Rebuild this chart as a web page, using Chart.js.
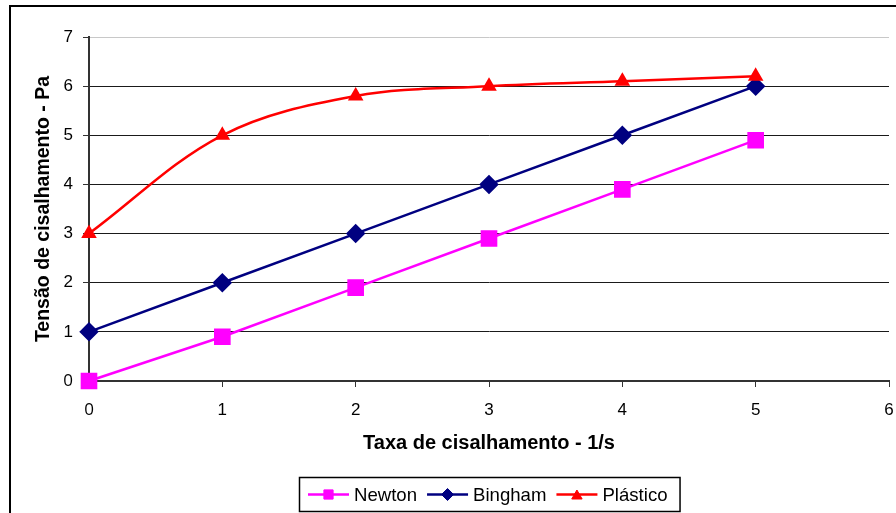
<!DOCTYPE html>
<html>
<head>
<meta charset="utf-8">
<script src="https://cdn.jsdelivr.net/npm/chart.js@4/dist/chart.umd.min.js"></script>
<style>
  html, body { margin: 0; padding: 0; background: #fff; }
  #chart { display: block; }
</style>
</head>
<body>
<canvas id="chart" width="896" height="513"></canvas>
<script>
// Shear rate (1/s) on the x axis, shear stress (Pa) on the y axis
const shearRate = [0, 1, 2, 3, 4, 5];
const newtonStress = [0, 0.9, 1.9, 2.9, 3.9, 4.9];
const binghamStress = [1, 2, 3, 4, 5, 6];
const plasticStress = [3, 5, 5.8, 6, 6.1, 6.2];
const seriesNames = ['Newton', 'Bingham', 'Plástico'];
const xTickValues = [0, 1, 2, 3, 4, 5, 6];
const yTickValues = [0, 1, 2, 3, 4, 5, 6, 7];
const xTitle = 'Taxa de cisalhamento - 1/s';
const yTitle = 'Tensão de cisalhamento - Pa';

const toPoints = (ys) => shearRate.map((x, i) => ({ x: x, y: ys[i] }));

const FONT = "'Liberation Sans', Arial, sans-serif";
const tickFont = (c) => ({
  family: (c.tick && c.tick.value === 0) ? "'Open Sans', 'Noto Sans', sans-serif" : FONT,
  size: 17
});

// Outer frame of the chart
const framePlugin = {
  id: 'frame',
  beforeDraw(chart) {
    const ctx = chart.ctx;
    ctx.save();
    ctx.fillStyle = '#fff';
    ctx.fillRect(0, 0, chart.width, chart.height);
    ctx.strokeStyle = '#000';
    ctx.lineWidth = 2;
    ctx.strokeRect(10, 6, chart.width + 20, chart.height + 20);
    ctx.restore();
  }
};

// Boxed legend under the axis title
const boxLegendPlugin = {
  id: 'boxLegend',
  afterDraw(chart) {
    const ctx = chart.ctx;
    const metas = chart.data.datasets.map((d, i) => ({ ds: d, meta: chart.getDatasetMeta(i) }));
    ctx.save();
    ctx.font = '18.6px ' + FONT;
    const lineLen = 41, gapText = 5, gapItem = 10, pad = 9;
    const widths = metas.map(m => lineLen + gapText + ctx.measureText(m.ds.label).width);
    const total = widths.reduce((a, b) => a + b, 0) + gapItem * (widths.length - 1);
    const cx = (chart.chartArea.left + chart.chartArea.right) / 2;
    const boxW = total + pad * 2 + 3, boxH = 34;
    const boxX = Math.round(cx - boxW / 2), boxY = 477;
    ctx.strokeStyle = '#000';
    ctx.lineWidth = 1.5;
    ctx.strokeRect(boxX + 0.5, boxY + 0.5, boxW, boxH);
    let x = boxX + pad;
    const y = boxY + boxH / 2 + 0.5;
    metas.forEach((m, i) => {
      const ds = m.ds;
      ctx.strokeStyle = ds.borderColor;
      ctx.lineWidth = 2.5;
      ctx.beginPath();
      ctx.moveTo(x, y);
      ctx.lineTo(x + lineLen, y);
      ctx.stroke();
      ctx.fillStyle = ds.pointBackgroundColor;
      ctx.strokeStyle = ds.pointBorderColor;
      ctx.lineWidth = 1;
      Chart.helpers.drawPoint(ctx, {
        pointStyle: ds.pointStyle,
        radius: ds.legendRadius,
        rotation: 0,
        borderWidth: 1
      }, x + lineLen / 2, y + (ds.pointStyle === 'triangle' ? 1.5 : 0));
      ctx.fillStyle = '#000';
      ctx.textBaseline = 'middle';
      ctx.textAlign = 'left';
      ctx.fillText(ds.label, x + lineLen + gapText, y + 1);
      x += widths[i] + gapItem;
    });
    ctx.restore();
  }
};

new Chart(document.getElementById('chart'), {
  type: 'line',
  data: {
    datasets: [
      {
        label: seriesNames[0],
        data: toPoints(newtonStress),
        borderColor: '#ff00ff',
        backgroundColor: '#ff00ff',
        pointBackgroundColor: '#ff00ff',
        pointBorderColor: '#ff00ff',
        pointStyle: 'rect',
        pointRadius: 10,
        legendRadius: 6.5,
        borderWidth: 2.5,
        tension: 0,
        order: 3,
        clip: false
      },
      {
        label: seriesNames[1],
        data: toPoints(binghamStress),
        borderColor: '#000080',
        backgroundColor: '#000080',
        pointBackgroundColor: '#000080',
        pointBorderColor: '#000080',
        pointStyle: 'rectRot',
        pointRadius: 8,
        legendRadius: 6,
        borderWidth: 2.5,
        tension: 0,
        order: 2,
        clip: false
      },
      {
        label: seriesNames[2],
        data: toPoints(plasticStress),
        borderColor: '#ff0000',
        backgroundColor: '#ff0000',
        pointBackgroundColor: '#ff0000',
        pointBorderColor: '#ff0000',
        pointStyle: 'triangle',
        pointRadius: 6.5,
        legendRadius: 6,
        borderWidth: 2.5,
        tension: 0.35,
        order: 1,
        clip: false
      }
    ]
  },
  options: {
    responsive: false,
    animation: false,
    devicePixelRatio: 1,
    layout: { autoPadding: false, padding: { top: 37, right: 7, left: 0, bottom: 0 } },
    plugins: {
      legend: { display: false },
      tooltip: { enabled: false }
    },
    elements: { point: { borderWidth: 1, hoverRadius: 0 } },
    scales: {
      x: {
        type: 'linear',
        min: 0,
        max: 6,
        afterBuildTicks: (s) => { s.ticks = xTickValues.map(v => ({ value: v })); },
        afterFit: (s) => { s.height = 132; s.paddingRight = 0; s.paddingLeft = 0; },
        ticks: { color: '#000', font: tickFont, padding: 13, maxRotation: 0 },
        grid: { display: true, drawOnChartArea: false, drawTicks: true, tickLength: 6, color: '#333', lineWidth: 1 },
        border: { display: true, color: '#333', width: 2 },
        title: {
          display: true,
          text: xTitle,
          color: '#000',
          font: { family: FONT, size: 20, weight: 'bold' },
          padding: { top: 0, bottom: 58 }
        }
      },
      y: {
        type: 'linear',
        min: 0,
        max: 7,
        afterBuildTicks: (s) => { s.ticks = yTickValues.map(v => ({ value: v })); },
        afterFit: (s) => { s.width = 89; },
        ticks: { color: '#000', font: tickFont, padding: 10 },
        grid: {
          display: true,
          drawTicks: true,
          tickLength: 6,
          color: (c) => (c.tick && c.tick.value === 7) ? '#c8c8c8' : '#1a1a1a',
          tickColor: '#333',
          lineWidth: 1
        },
        border: { display: true, color: '#333', width: 2 },
        title: {
          display: true,
          text: yTitle,
          color: '#000',
          font: { family: FONT, size: 19.5, weight: 'bold' },
          padding: { top: 32, bottom: 0 }
        }
      }
    }
  },
  plugins: [framePlugin, boxLegendPlugin]
});
</script>
</body>
</html>
